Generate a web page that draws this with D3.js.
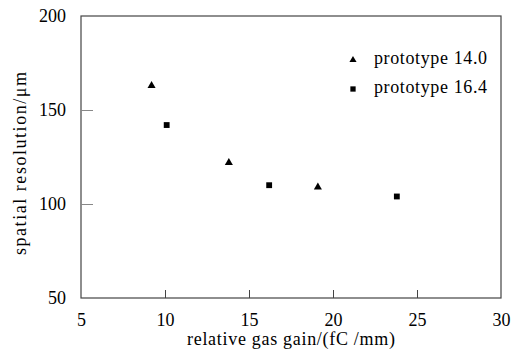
<!DOCTYPE html>
<html><head><meta charset="utf-8">
<script src="https://cdn.jsdelivr.net/npm/d3@7"></script>
<style>body{margin:0;background:#fff}svg{display:block}</style>
</head><body>
<svg id="c" width="511" height="358"></svg>
<script>
const seriesNames = ["prototype 14.0", "prototype 16.4"];
const gain14 = [9.2, 13.8, 19.1];
const res14 = [163, 122, 109];
const gain16 = [10.1, 16.2, 23.8];
const res16 = [142, 110, 104];
const xTicks = [5, 10, 15, 20, 25, 30];
const yTicks = [50, 100, 150, 200];
const xTitle = "relative gas gain/(fC /mm)";
const yTitle = "spatial resolution/μm";

const FONT = '"Liberation Serif"';
const svg = d3.select("#c");
const L = 81, T = 16, R = 501, B = 298;
const x = d3.scaleLinear().domain([5, 30]).range([L, R]);
const y = d3.scaleLinear().domain([50, 200]).range([B, T]);
const fs = 18;

function styleText(sel, size) {
  sel.attr("font-family", null).style("font-family", FONT).style("font-size", size + "px").style("fill", "#000");
}

svg.append("rect").attr("x", L).attr("y", T).attr("width", R - L).attr("height", B - T)
  .attr("fill", "none").attr("stroke", "#444").attr("stroke-width", 1.2);

const xa = svg.append("g").attr("transform", `translate(0,${B})`)
  .call(d3.axisBottom(x).tickValues(xTicks).tickSizeInner(-8).tickSizeOuter(0).tickPadding(15));
xa.attr("font-family", null).style("font-family", FONT);
xa.select(".domain").remove();
xa.selectAll("line").attr("stroke", "#444");
styleText(xa.selectAll("text"), fs);
xa.selectAll(".tick").filter(d => d === 5 || d === 30).select("line").remove();

const ya = svg.append("g").attr("transform", `translate(${L},0)`)
  .call(d3.axisLeft(y).tickValues(yTicks).tickSizeInner(-12).tickSizeOuter(0).tickPadding(15));
ya.attr("font-family", null).style("font-family", FONT);
ya.select(".domain").remove();
ya.selectAll("line").attr("stroke", "#888");
styleText(ya.selectAll("text"), fs);
ya.selectAll(".tick").filter(d => d === 50 || d === 200).select("line").remove();

const tri = d3.symbol().type(d3.symbolTriangle).size(28);
const sq = d3.symbol().type(d3.symbolSquare).size(34);
const triL = d3.symbol().type(d3.symbolTriangle).size(22);
const sqL = d3.symbol().type(d3.symbolSquare).size(28);

svg.append("g").selectAll("path").data(gain14.map((g, i) => [g, res14[i]])).join("path")
  .attr("d", tri).attr("transform", d => `translate(${x(d[0])},${y(d[1])})`).attr("fill", "#000");
svg.append("g").selectAll("path").data(gain16.map((g, i) => [g, res16[i]])).join("path")
  .attr("d", sq).attr("transform", d => `translate(${x(d[0])},${y(d[1])})`).attr("fill", "#000");

const lg = svg.append("g");
[[triL, 60], [sqL, 89]].forEach(([s, yy], i) => {
  lg.append("path").attr("d", s).attr("transform", `translate(353,${yy})`).attr("fill", "#000");
  const t = lg.append("text").attr("x", 374).attr("y", yy + 4).attr("textLength", 113).attr("lengthAdjust", "spacing").text(seriesNames[i]);
  styleText(t, fs);
});

const xt = svg.append("text").attr("x", 187).attr("y", 345)
  .attr("textLength", 208).attr("lengthAdjust", "spacing").text(xTitle);
styleText(xt, fs);
const yt = svg.append("text").attr("transform", `translate(26,255) rotate(-90)`)
  .attr("textLength", 183).attr("lengthAdjust", "spacing").text(yTitle);
styleText(yt, fs);
</script>
</body></html>
